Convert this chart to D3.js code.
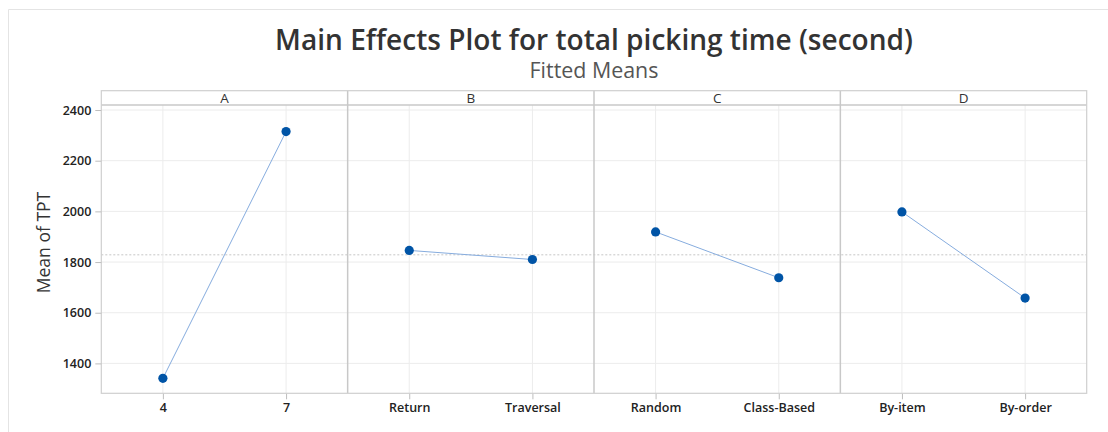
<!DOCTYPE html>
<html>
<head>
<meta charset="utf-8">
<script src="https://cdn.jsdelivr.net/npm/d3@7"></script>
<style>
  html, body { margin: 0; padding: 0; background: #ffffff; }
  svg { display: block; font-family: "Open Sans", "Noto Sans", sans-serif; }
</style>
</head>
<body>
<svg id="chart" width="1108" height="432"></svg>
<script>
// Factors, their levels and the fitted mean of TPT at each level
const factors = ["A", "B", "C", "D"];
const levelsA = ["4", "7"];
const levelsB = ["Return", "Traversal"];
const levelsC = ["Random", "Class-Based"];
const levelsD = ["By-item", "By-order"];
const meansA = [1341, 2315];
const meansB = [1846, 1810];
const meansC = [1919, 1738];
const meansD = [1998, 1658];
const grandMean = 1828.5;
const yTicks = [1400, 1600, 1800, 2000, 2200, 2400];
const yDomain = [1282, 2421];

const titleText = "Main Effects Plot for total picking time (second)";
const subtitleText = "Fitted Means";
const yLabelText = "Mean of TPT";

const panels = [
  { name: factors[0], levels: levelsA, means: meansA },
  { name: factors[1], levels: levelsB, means: meansB },
  { name: factors[2], levels: levelsC, means: meansC },
  { name: factors[3], levels: levelsD, means: meansD }
];

const W = 1108, H = 432;
const plot = { left: 101.3, right: 1086.7, top: 90.7, stripBottom: 105, bottom: 393.3 };

const svg = d3.select("#chart");

// outer frame
svg.append("line").attr("x1", 8.5).attr("x2", W).attr("y1", 9.5).attr("y2", 9.5)
  .attr("stroke", "#e4e4e4").attr("stroke-width", 1);
svg.append("line").attr("x1", 8.5).attr("x2", 8.5).attr("y1", 9.5).attr("y2", H)
  .attr("stroke", "#e4e4e4").attr("stroke-width", 1);

const y = d3.scaleLinear().domain(yDomain).range([plot.bottom, 104.7]);

const panelX = d3.scaleBand().domain(factors).range([plot.left, plot.right]).padding(0);
const pw = panelX.bandwidth();

// horizontal gridlines across all panels
svg.append("g").selectAll("line").data(yTicks).join("line")
  .attr("x1", plot.left).attr("x2", plot.right)
  .attr("y1", d => y(d)).attr("y2", d => y(d))
  .attr("stroke", "#ececec").attr("stroke-width", 1);

// grand mean reference line
svg.append("line")
  .attr("x1", plot.left).attr("x2", plot.right)
  .attr("y1", y(grandMean)).attr("y2", y(grandMean))
  .attr("stroke", "#b8b8b8").attr("stroke-width", 0.8).attr("stroke-dasharray", "2,2");

panels.forEach(p => {
  const x0 = panelX(p.name);
  const x = d3.scalePoint().domain(p.levels).range([x0, x0 + pw]).padding(0.5);
  const g = svg.append("g");

  // vertical gridlines at levels
  g.selectAll("line.vg").data(p.levels).join("line")
    .attr("class", "vg")
    .attr("x1", d => x(d)).attr("x2", d => x(d))
    .attr("y1", plot.stripBottom).attr("y2", plot.bottom)
    .attr("stroke", "#ececec").attr("stroke-width", 1);

  // x axis with level labels
  const xa = g.append("g").attr("transform", `translate(0,${plot.bottom})`)
    .call(d3.axisBottom(x).tickSize(6).tickPadding(4));
  xa.select(".domain").remove();
  xa.selectAll(".tick line").attr("stroke", "#bdbdbd");
  xa.selectAll(".tick text").attr("fill", "#222").attr("font-size", "12.5px")
    .attr("font-weight", 600).attr("font-family", "'Open Sans', sans-serif");

  // connecting line and points
  const pts = p.levels.map((l, i) => [x(l), y(p.means[i])]);
  g.append("path").attr("d", d3.line()(pts))
    .attr("fill", "none").attr("stroke", "#86acde").attr("stroke-width", 1);
  g.selectAll("circle").data(p.levels).join("circle")
    .attr("cx", d => x(d)).attr("cy", (d, i) => y(p.means[i])).attr("r", 4.6)
    .attr("fill", "#0054a6");

  // strip label
  g.append("text").attr("x", x0 + pw / 2).attr("y", 103.2)
    .attr("text-anchor", "middle").attr("font-size", "13.5px").attr("fill", "#333")
    .text(p.name);
});

// panel borders, strip separator and plot frame
svg.append("line").attr("x1", plot.left).attr("x2", plot.right)
  .attr("y1", plot.stripBottom).attr("y2", plot.stripBottom)
  .attr("stroke", "#c8c8c8").attr("stroke-width", 1.5);
svg.append("g").selectAll("line").data(factors.slice(1)).join("line")
  .attr("x1", d => panelX(d)).attr("x2", d => panelX(d))
  .attr("y1", plot.top).attr("y2", plot.bottom)
  .attr("stroke", "#c8c8c8").attr("stroke-width", 1.5);
svg.append("rect").attr("x", plot.left).attr("y", plot.top)
  .attr("width", plot.right - plot.left).attr("height", plot.bottom - plot.top)
  .attr("fill", "none").attr("stroke", "#cfcfcf").attr("stroke-width", 1.2);

// y axis
const ya = svg.append("g").attr("transform", `translate(${plot.left},0)`)
  .call(d3.axisLeft(y).tickValues(yTicks).tickFormat(d3.format("d")).tickSize(6).tickPadding(4));
ya.select(".domain").remove();
ya.selectAll(".tick line").attr("stroke", "#bdbdbd");
ya.selectAll(".tick text").attr("fill", "#222").attr("font-size", "12.5px")
  .attr("font-weight", 600).attr("font-family", "'Open Sans', sans-serif");

// fit a text element to a given width by adjusting its font size
function fitWidth(sel, target) {
  const fs = parseFloat(sel.attr("font-size"));
  const w = sel.node().getComputedTextLength();
  if (w > 0) sel.attr("font-size", (fs * target / w).toFixed(2) + "px");
}

// titles
const cx = (plot.left + plot.right) / 2;
const t = svg.append("text").attr("x", cx).attr("y", 49.5)
  .attr("text-anchor", "middle").attr("font-size", "26px").attr("font-weight", 600)
  .attr("fill", "#333").text(titleText);
fitWidth(t, 638);
const st = svg.append("text").attr("x", cx).attr("y", 78)
  .attr("text-anchor", "middle").attr("font-size", "20px")
  .attr("fill", "#555").text(subtitleText);
fitWidth(st, 129);

// y axis title
const yl = svg.append("text")
  .attr("transform", `translate(50,${242.5}) rotate(-90)`)
  .attr("text-anchor", "middle").attr("font-size", "18px").attr("fill", "#333")
  .text(yLabelText);
fitWidth(yl, 101.6);
</script>
</body>
</html>
